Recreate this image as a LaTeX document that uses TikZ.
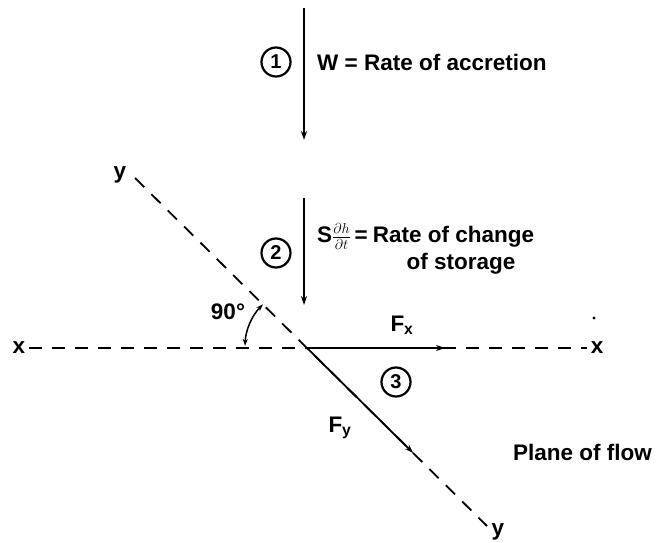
\documentclass[tikz,border=0pt]{standalone}
\usepackage{fontspec}
\setmainfont{Liberation Sans}
\usetikzlibrary{arrows.meta,calc}
\tikzset{
  lbl/.style={font=\bfseries\fontsize{22.5}{24}\selectfont, inner sep=0pt},
  axis/.style={line width=1.8pt, dash pattern=on 13pt off 10pt},
  vec/.style={line width=1.8pt, -{Stealth[length=9pt,width=6pt]}},
  num/.style={circle, draw, line width=2.2pt, minimum size=29pt, inner sep=0pt, font=\bfseries\fontsize{20}{22}\selectfont},
}
\begin{document}
\begin{tikzpicture}[x=1pt,y=1pt]
\useasboundingbox (0,0) rectangle (664,542);
% origin
\coordinate (O) at (307,194);
% accretion arrow
\coordinate (a1) at (304,534);
\coordinate (a1e) at (304,402);
\draw[vec] (a1) -- (a1e);
\node[num] (c1) at (276,480) {1};
\node[lbl, anchor=west] (t1) at (317,480) {W = Rate of accretion};
% storage arrow
\coordinate (a2) at (304,344);
\coordinate (a2e) at (304,237);
\draw[vec] (a2) -- (a2e);
\node[num] (c2) at (276,289) {2};
\node[lbl, anchor=west] (t2a) at (317,304) {S$\frac{\partial h\mathstrut}{\mathstrut\partial t}$\,=\hspace{5pt}Rate of change};
\node[lbl] (t2b) at (461,278) {of storage};
% axes
\node[lbl] (xl) at (19,194) {x};
\node[lbl] (xr) at (597,194) {x};
\draw[axis] ([xshift=4pt]xl.east) -- ([xshift=-4pt]xr.west);
\coordinate (yu0) at ($(O)+(-172,170)$);
\coordinate (yd0) at ($(O)+(180,-178)$);
\node[lbl] (yu) at (120,367) {y};
\node[lbl] (yd) at (498,10) {y};
\draw[axis] (yu0) -- (yd0);
% force vectors
\coordinate (fx) at (445,194);
\coordinate (fy) at ($(O)!0.59!(yd0)$);
\draw[vec] (O) -- (fx);
\draw[vec] (O) -- (fy);
\node[lbl] (Fx) at (402,217) {F\textsubscript{x}};
\node[lbl] (Fy) at (340,114) {F\textsubscript{y}};
\node[num] (c3) at (396,160) {3};
\node[lbl, anchor=west] (pf) at (513,90) {Plane of flow};
% angle
\draw[line width=1.5pt, {Stealth[length=7pt,width=5pt]}-{Stealth[length=7pt,width=5pt]}] ([shift={(135.3:62)}]O) arc[start angle=135.3, end angle=178, radius=62];
\node[lbl] (ang) at (228,230) {90°};
% stray dot
\fill (594,224) circle (1.6);
\end{tikzpicture}
\end{document}
